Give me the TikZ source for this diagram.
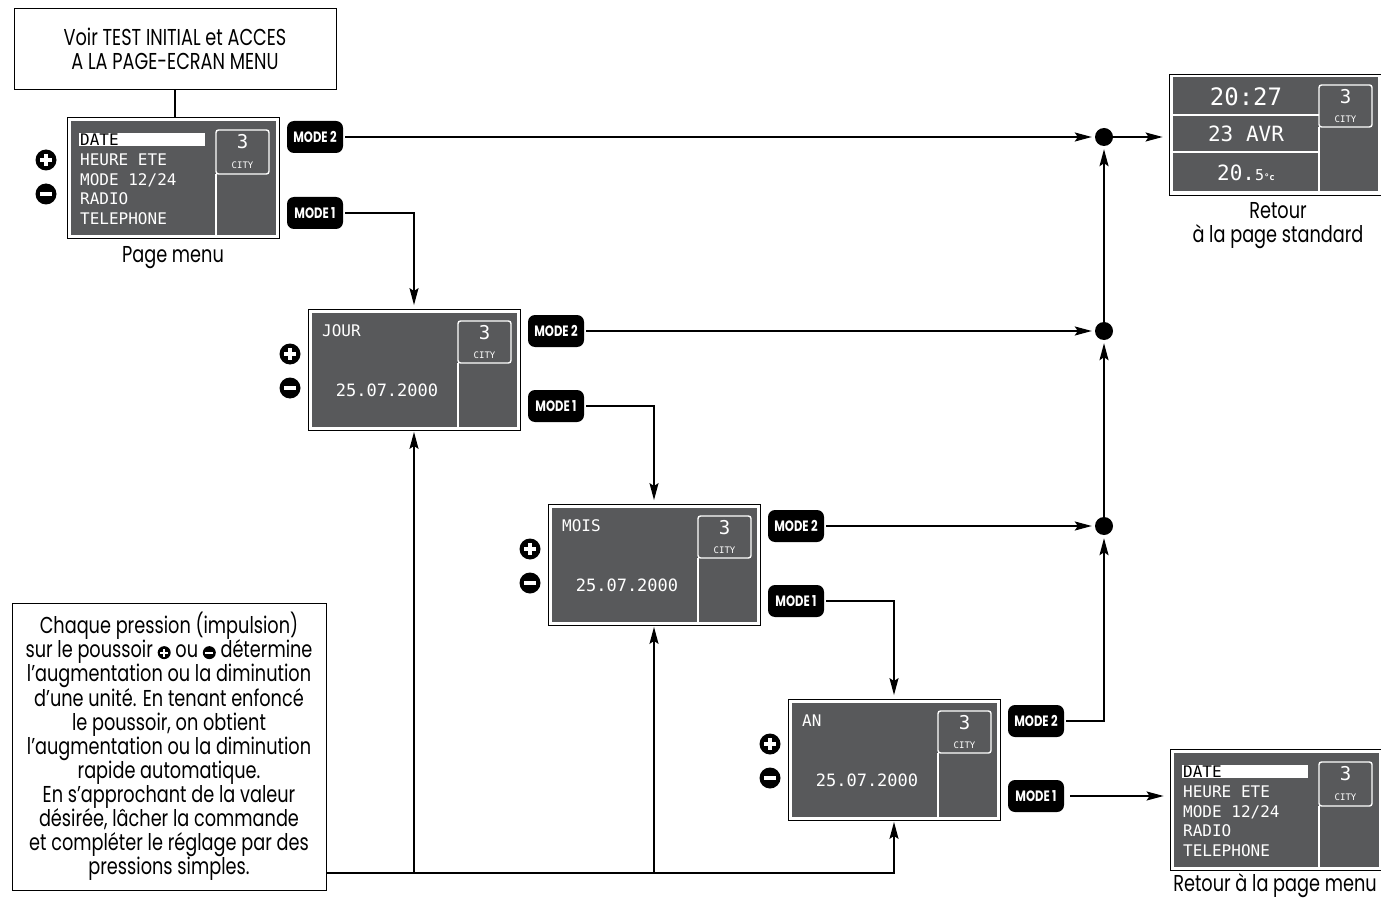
\documentclass[tikz,border=0pt]{standalone}
\usepackage{fontspec}
\setmainfont{Poppins}[FakeStretch=0.77]
\newfontfamily\lcdfont{DejaVu Sans Mono}
\usepackage{xcolor}
\usetikzlibrary{arrows.meta}

\definecolor{lcd}{RGB}{88,89,91}
\newcommand\plusknob{\tikz[baseline=-5pt]{\fill (0pt,0pt) circle (6.5pt);
  \draw[white,line width=2pt] (-4pt,0pt) -- (4pt,0pt) (0pt,-4pt) -- (0pt,4pt);}}
\newcommand\minusknob{\tikz[baseline=-5pt]{\fill (0pt,0pt) circle (6.5pt);
  \draw[white,line width=2pt] (-4pt,0pt) -- (4pt,0pt);}}

\begin{document}
\begin{tikzpicture}[x=1pt, y=-1pt,
    txt/.style={font=\fontsize{23}{24}\selectfont, align=center, inner sep=0pt},
    scrn/.style={draw=black, line width=0.8pt, fill=white, minimum width=212pt,
      minimum height=121pt, inner sep=0pt,
      path picture={\fill[lcd] ([shift={(3.5pt,3.5pt)}]path picture bounding box.south west)
        rectangle ([shift={(-3.5pt,-3.5pt)}]path picture bounding box.north east);}},
    lcdtxt/.style={text=white, font=\lcdfont\fontsize{16}{19}\selectfont, inner sep=0pt},
    city/.style={draw=white, line width=1.4pt, rounded corners=2.5pt, fill=lcd},
    panel/.style={draw=white, line width=1.4pt},
    badge/.style={fill=black, rounded corners=7pt, text=white,
      font=\bfseries\fontsize{15}{15}\selectfont, minimum width=56pt,
      minimum height=32pt, inner sep=0pt},
    knob/.style={circle, fill=black, minimum size=21pt, inner sep=0pt},
    sign/.style={white, line width=3.2pt},
    dot/.style={circle, fill=black, minimum size=18pt, inner sep=0pt},
    wire/.style={line width=1.6pt},
    arr/.style={wire, -{Stealth[length=17pt,width=9pt,inset=3pt]}}]

  \useasboundingbox (0,0) rectangle (1381,901);

  \node[draw, line width=0.8pt, minimum width=322pt, minimum height=81pt, txt]
    (init) at (175,48.5) {Voir TEST INITIAL et ACCES\\A LA PAGE-ECRAN MENU};

  % menu pages
  \foreach \n/\cx/\cy in {menu/173/178, back/1276/810} {
    \node[scrn] (\n) at (\cx,\cy) {};
    \fill[white] (\cx-94,\cy-45) rectangle (\cx+32,\cy-32);
    \node[lcdtxt, text=black, anchor=west] at (\cx-93,\cy-38) {DATE};
    \node[lcdtxt, anchor=west] at (\cx-93,\cy-18) {HEURE ETE};
    \node[lcdtxt, anchor=west] at (\cx-93,\cy+2) {MODE 12/24};
    \node[lcdtxt, anchor=west] at (\cx-93,\cy+21) {RADIO};
    \node[lcdtxt, anchor=west] at (\cx-93,\cy+41) {TELEPHONE};
    \draw[panel] (\cx+43,\cy-4) -- (\cx+43,\cy+57);
    \draw[city] (\cx+43,\cy-48) rectangle (\cx+96,\cy-4);
    \node[lcdtxt, font=\lcdfont\fontsize{19}{19}\selectfont] at (\cx+69.5,\cy-36) {3};
    \node[lcdtxt, font=\lcdfont\fontsize{9}{9}\selectfont] at (\cx+69.5,\cy-13) {CITY};
  }

  % editing pages
  \foreach \n/\cx/\cy/\lbl in {jour/414/370/JOUR, mois/654/565/MOIS, an/894/760/AN} {
    \node[scrn] (\n) at (\cx,\cy) {};
    \node[lcdtxt, anchor=west] at (\cx-92,\cy-39) {\lbl};
    \node[lcdtxt, font=\lcdfont\fontsize{17}{19}\selectfont] at (\cx-27,\cy+20) {25.07.2000};
    \draw[panel] (\cx+44,\cy-7) -- (\cx+44,\cy+57);
    \draw[city] (\cx+44,\cy-49) rectangle (\cx+97,\cy-7);
    \node[lcdtxt, font=\lcdfont\fontsize{19}{19}\selectfont] at (\cx+70.5,\cy-37) {3};
    \node[lcdtxt, font=\lcdfont\fontsize{9}{9}\selectfont] at (\cx+70.5,\cy-15) {CITY};
    \node[badge] (\n-m2) at (\cx+142,\cy-39) {MODE 2};
    \node[badge] (\n-m1) at (\cx+142,\cy+36) {MODE 1};
  }
  \node[badge] (menu-m2) at (315,137) {MODE 2};
  \node[badge] (menu-m1) at (315,213) {MODE 1};

  % plus / minus buttons
  \foreach \kx/\ky in {46/160, 290/354, 530/549, 770/744} {
    \node[knob] (kp) at (\kx,\ky) {};
    \draw[sign] (\kx-6,\ky) -- (\kx+6,\ky) (\kx,\ky-6) -- (\kx,\ky+6);
    \node[knob] (km) at (\kx,\ky+34) {};
    \draw[sign] (\kx-6,\ky+34) -- (\kx+6,\ky+34);
  }

  % standard page
  \node[scrn, minimum height=121pt] (std) at (1275,134.5) {};
  \draw[panel] (1173,115) -- (1319,115) (1173,152) -- (1319,152);
  \draw[panel] (1319,127) -- (1319,191);
  \draw[city] (1319,85) rectangle (1372,127);
  \node[lcdtxt, font=\lcdfont\fontsize{19}{19}\selectfont] at (1345.5,97) {3};
  \node[lcdtxt, font=\lcdfont\fontsize{9}{9}\selectfont] at (1345.5,119) {CITY};
  \node[lcdtxt, font=\lcdfont\fontsize{24}{24}\selectfont] at (1246,97) {20:27};
  \node[lcdtxt, font=\lcdfont\fontsize{21}{21}\selectfont] at (1246,134) {23 AVR};
  \node[lcdtxt, font=\lcdfont\fontsize{21}{21}\selectfont] at (1246,173)
    {20.{\fontsize{15}{15}\selectfont5}{\fontsize{9}{9}\selectfont\bfseries °c}};

  \node[dot] (d1) at (1104,137) {};
  \node[dot] (d2) at (1104,331) {};
  \node[dot] (d3) at (1104,526) {};

  \node[txt] (cap1) at (173,258) {Page menu};
  \node[txt] (cap2) at (1278,226) {Retour\\à la page standard};
  \node[txt] (cap3) at (1275,886) {Retour à la page menu};

  \node[draw, line width=0.8pt, minimum width=314pt, minimum height=287pt, txt]
    (note) at (169,746.5) {Chaque pression (impulsion)\\
    sur le poussoir \plusknob{} ou \minusknob{} détermine\\
    l’augmentation ou la diminution\\
    d’une unité. En tenant enfoncé\\
    le poussoir, on obtient\\
    l’augmentation ou la diminution\\
    rapide automatique.\\
    En s’approchant de la valeur\\
    désirée, lâcher la commande\\
    et compléter le réglage par des\\
    pressions simples.};
  \coordinate (n0) at (327,873);

  % connectors
  \draw[wire] (init.south) -- (init.south |- menu.north);
  \draw[arr, shorten <=2pt, shorten >=3pt] (menu-m2) -- (d1);
  \draw[arr, shorten >=6pt] (d1) -- (d1 -| std.west);
  \draw[arr, shorten <=2pt, shorten >=4pt] (menu-m1) -| (jour.north);
  \draw[arr, shorten <=2pt, shorten >=3pt] (jour-m2) -- (d2);
  \draw[arr, shorten <=2pt, shorten >=4pt] (jour-m1) -| (mois.north);
  \draw[arr, shorten <=2pt, shorten >=3pt] (mois-m2) -- (d3);
  \draw[arr, shorten <=2pt, shorten >=4pt] (mois-m1) -| (an.north);
  \draw[arr, shorten <=2pt, shorten >=3pt] (an-m2) -| (d3);
  \draw[arr, shorten <=6pt, shorten >=6pt] (an-m1) -- (an-m1 -| back.west);
  \draw[arr, shorten >=3pt] (d2) -- (d1);
  \draw[arr, shorten >=3pt] (d3) -- (d2);
  \draw[wire] (n0) -- (895,873);
  \draw[arr, shorten >=1pt] (n0) -| (jour.south);
  \draw[arr, shorten >=1pt] (n0) -| (mois.south);
  \draw[arr, shorten >=1pt] (n0) -| (an.south);
\end{tikzpicture}
\end{document}
